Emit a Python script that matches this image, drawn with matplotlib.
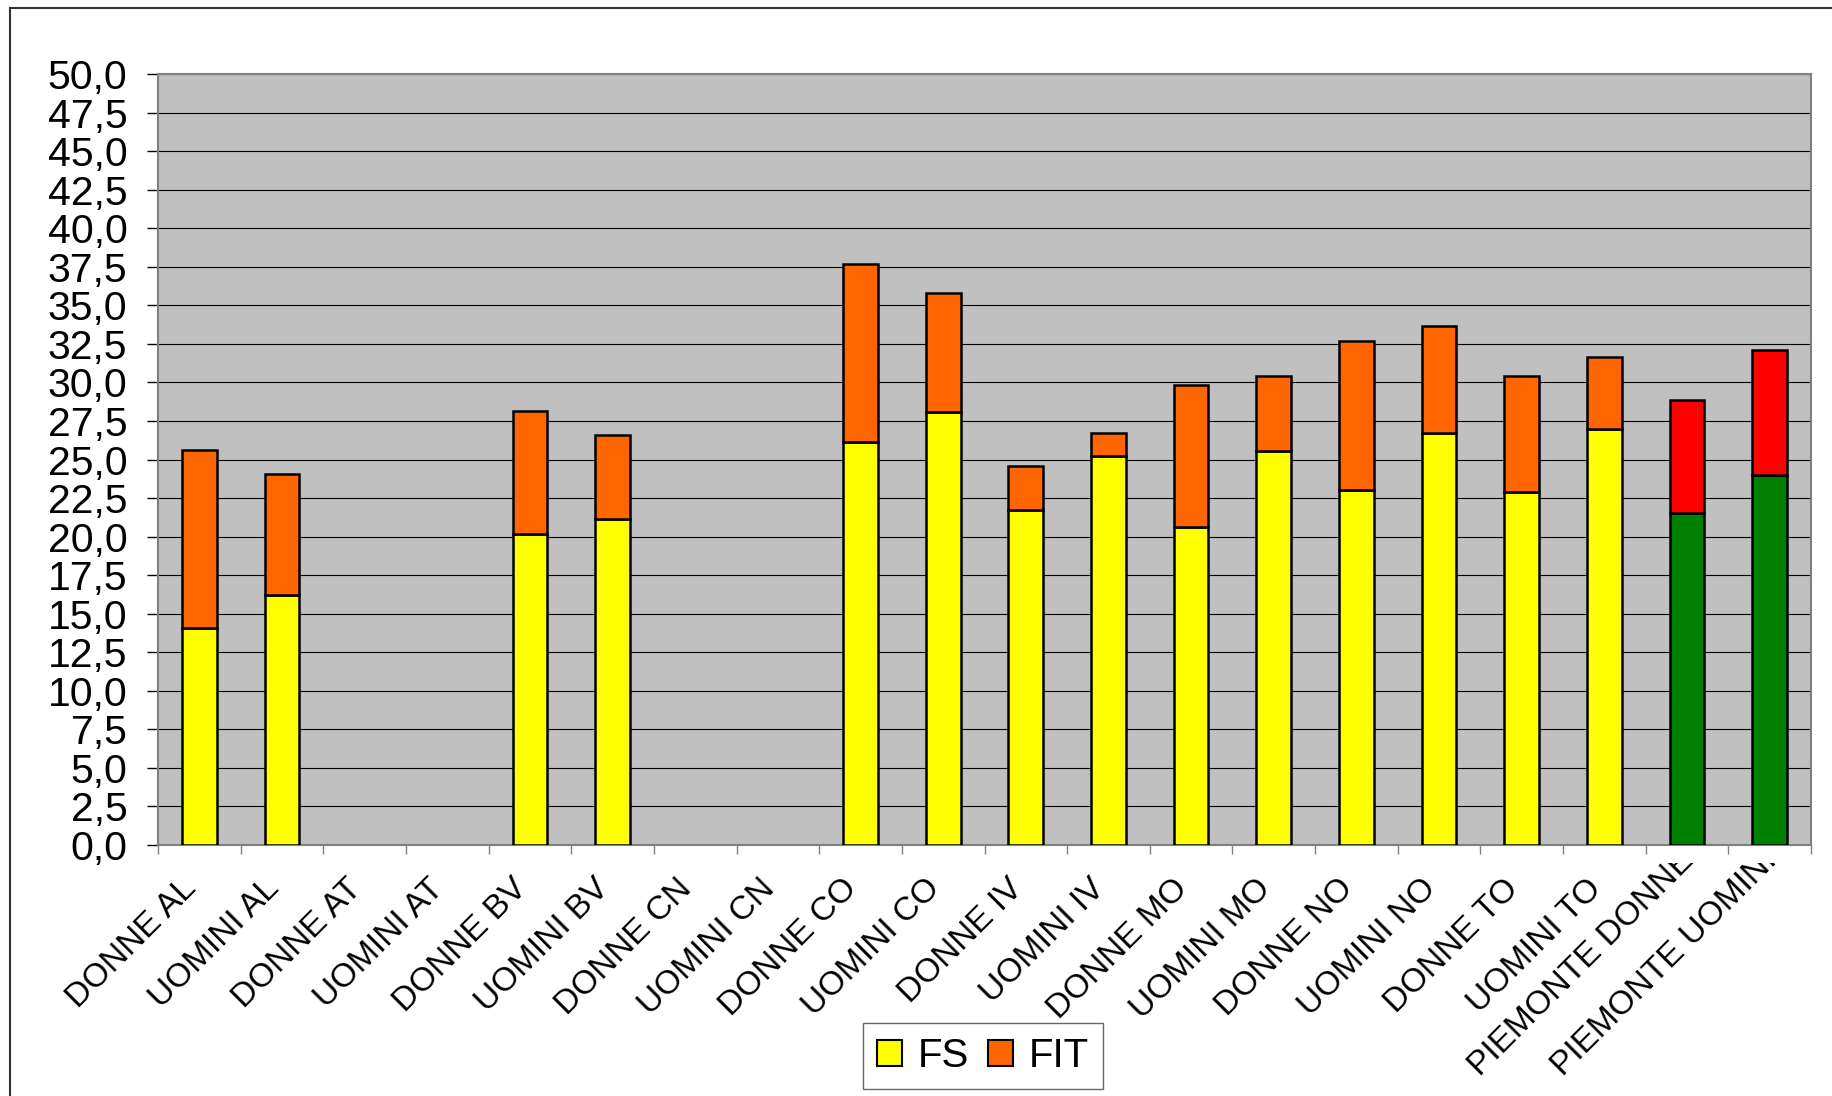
import numpy as np
import matplotlib
matplotlib.use("Agg")
import matplotlib.pyplot as plt
import matplotlib.transforms as mtransforms
from matplotlib.patches import Patch, Rectangle

plt.rcParams["font.family"] = ["Liberation Sans", "DejaVu Sans"]

# ── Data ────────────────────────────────────────────────────────────
categories = ["DONNE AL", "UOMINI AL", "DONNE AT", "UOMINI AT",
              "DONNE BV", "UOMINI BV", "DONNE CN", "UOMINI CN",
              "DONNE CO", "UOMINI CO", "DONNE IV", "UOMINI IV",
              "DONNE MO", "UOMINI MO", "DONNE NO", "UOMINI NO",
              "DONNE TO", "UOMINI TO", "PIEMONTE DONNE", "PIEMONTE UOMINI"]
nan = np.nan
fs = [14.1, 16.2, nan, nan, 20.15, 21.15, nan, nan, 26.15, 28.05,
      21.7, 25.2, 20.6, 25.55, 23.05, 26.75, 22.9, 26.95, 21.5, 24.0]
fit = [11.5, 7.85, nan, nan, 8.0, 5.45, nan, nan, 11.55, 7.75,
       2.9, 1.55, 9.2, 4.85, 9.65, 6.9, 7.5, 4.7, 7.35, 8.1]
series_names = ["FS", "FIT"]
yticks = np.arange(0, 50.01, 2.5)

# ── Colours (Piemonte bars use their own pair) ──────────────────────
fs_col, fit_col = "#FFFF00", "#FF6600"
piem_fs_col, piem_fit_col = "#008000", "#FF0000"
fs_colors = [piem_fs_col if c.startswith("PIEMONTE") else fs_col for c in categories]
fit_colors = [piem_fit_col if c.startswith("PIEMONTE") else fit_col for c in categories]

W, H = 1832, 1096
fig = plt.figure(figsize=(W / 100, H / 100), dpi=100)
ax = fig.add_axes([158 / W, 1 - 845 / H, (1811 - 158) / W, (845 - 74) / H])
ax.set_facecolor("#C0C0C0")

fs_arr = np.array(fs, dtype=float)
fit_arr = np.array(fit, dtype=float)
idx = np.where(~np.isnan(fs_arr))[0]
ax.bar(idx, fs_arr[idx], width=0.42, color=[fs_colors[i] for i in idx],
       edgecolor="black", linewidth=1.8, zorder=3)
ax.bar(idx, fit_arr[idx], bottom=fs_arr[idx], width=0.42,
       color=[fit_colors[i] for i in idx], edgecolor="black", linewidth=1.8, zorder=3)

ax.set_xlim(-0.5, len(categories) - 0.5)
ax.set_ylim(0, 50)
ax.set_yticks(yticks)
ax.set_yticklabels([f"{v:.1f}".replace(".", ",") for v in yticks], fontsize=29.5)
ax.yaxis.grid(True, color="black", linewidth=0.8, zorder=1)
ax.set_axisbelow(True)
ax.tick_params(axis="y", direction="out", length=8, width=1, color="black", pad=14)

# category boundaries carry the tick marks, labels drawn separately
ax.set_xticks(np.arange(len(categories) + 1) - 0.5)
ax.set_xticklabels([])
ax.tick_params(axis="x", direction="out", length=6.5, width=1, color="#808080")

for sp in ax.spines.values():
    sp.set_color("#808080")
    sp.set_linewidth(1.5)

# rotated category labels, clipped like the original
clip = mtransforms.TransformedBbox(
    mtransforms.Bbox([[0, 0], [1, 1 - 863 / H]]), fig.transFigure)
base = mtransforms.blended_transform_factory(ax.transData, ax.transAxes)
for i, cat in enumerate(categories):
    if cat.startswith("PIEMONTE"):
        off = mtransforms.ScaledTranslation(-2.07, -2.32, fig.dpi_scale_trans)
        t = ax.text(i, 0, cat, transform=base + off, rotation=45, fontsize=24,
                    ha="left", va="baseline", rotation_mode="anchor")
    else:
        off = mtransforms.ScaledTranslation(-0.19, -0.28, fig.dpi_scale_trans)
        t = ax.text(i, 0, cat, transform=base + off, rotation=45, fontsize=24,
                    ha="right", va="top", rotation_mode="anchor")
    t.set_clip_on(True)
    t.set_clip_box(clip)

# legend
handles = [Patch(facecolor=fs_col, edgecolor="black", linewidth=1.5),
           Patch(facecolor=fit_col, edgecolor="black", linewidth=1.5)]
leg = fig.legend(handles, series_names, loc="center", ncol=2,
                 bbox_to_anchor=(983 / W, 1 - 1056 / H), fontsize=29,
                 handlelength=0.62, handleheight=0.62, handletextpad=0.4,
                 columnspacing=0.47, borderpad=0.35, fancybox=False,
                 frameon=True, edgecolor="#404040")
leg.get_frame().set_linewidth(1.0)

# outer chart frame (only left and top edges fall inside the image)
fig.patches.append(Rectangle((10 / W, -0.1), 1.2, 1 - 8 / H + 0.1,
                             transform=fig.transFigure, fill=False,
                             edgecolor="#333333", linewidth=1.5))

fig.savefig("out.png", dpi=100)
